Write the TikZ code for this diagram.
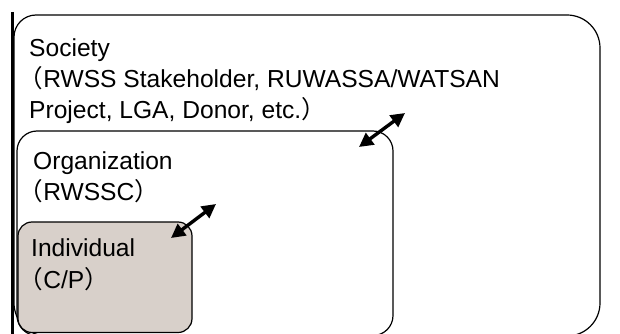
\documentclass[tikz,border=0pt]{standalone}
\usepackage{fontspec}
\setmainfont{Liberation Sans}
\newfontfamily\cjk{Noto Sans CJK JP}
\usetikzlibrary{arrows.meta}
\definecolor{indfill}{RGB}{216,208,202}
\tikzset{
  box/.style={draw=black, line width=1.2pt},
  txt/.style={anchor=base west, inner sep=0pt, font=\fontsize{24.6pt}{30pt}\selectfont},
  dblarrow/.style={line width=3.4pt, {Triangle[length=14pt,width=14pt]}-{Triangle[length=14pt,width=14pt]}}
}
\begin{document}
\begin{tikzpicture}[x=1pt,y=-1pt]
\useasboundingbox (0,0) rectangle (620,334);
% Society box
\draw[box] (14,336) [rounded corners=22pt] -- (14,15) [rounded corners=33pt] -- (600,15) -- (600,336) -- cycle;
% Organization box
\draw[box, rounded corners=20pt] (17,131) rectangle (393,335.5);
% Individual box
\draw[box, fill=indfill, rounded corners=14pt] (18,222) rectangle (192,332.5);
% texts
\node[txt] (soc1) at (29,57) {Society};
\node[txt] (soc2) at (18.5,88) {{\cjk （}RWSS Stakeholder, RUWASSA/WATSAN};
\node[txt] (soc3) at (29,118) {Project, LGA, Donor, etc.{\cjk ）}};
\node[txt] (org1) at (33,169) {Organization};
\node[txt] (org2) at (18.5,200) {{\cjk （}RWSSC{\cjk ）}};
\node[txt] (ind1) at (31,256) {Individual};
\node[txt] (ind2) at (18.5,288) {{\cjk （}C/P{\cjk ）}};
% arrows
\coordinate (a1s) at (359,147);
\coordinate (a1e) at (405,113);
\coordinate (a2s) at (171,238);
\coordinate (a2e) at (216,204);
\draw[dblarrow] (a1s) -- (a1e);
\draw[dblarrow] (a2s) -- (a2e);
% thick left bar
\coordinate (bart) at (12,12);
\coordinate (barb) at (12,334);
\draw[line width=3pt] (bart) -- (barb);
\end{tikzpicture}
\end{document}
